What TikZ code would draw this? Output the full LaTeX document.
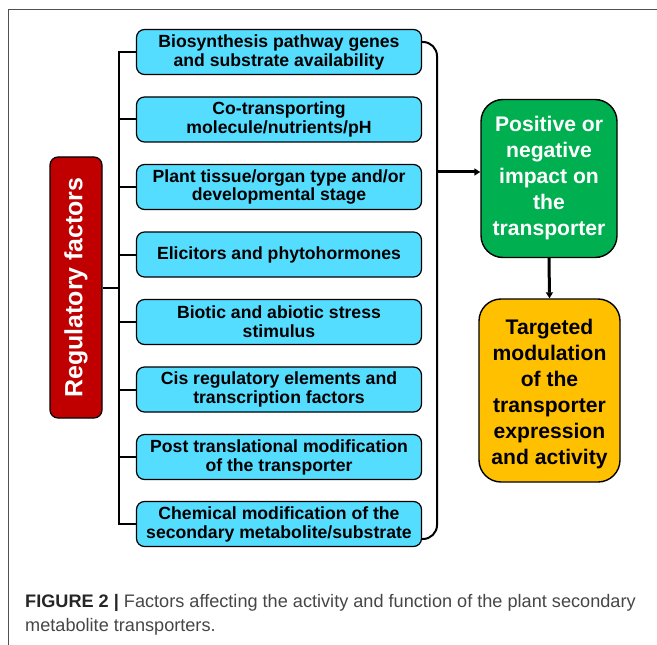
\documentclass[tikz,border=0pt]{standalone}
\usepackage{fontspec}
\setmainfont{Liberation Sans}
\usetikzlibrary{arrows.meta}
\definecolor{factorcyan}{RGB}{85,221,255}
\definecolor{impactgreen}{RGB}{0,176,80}
\definecolor{targetgold}{RGB}{255,192,0}
\definecolor{regred}{RGB}{192,0,0}
\definecolor{captiongray}{RGB}{70,70,70}
\definecolor{framegray}{RGB}{80,80,80}
\begin{document}
\begin{tikzpicture}[x=1bp,y=1bp,
  factor/.style={draw=black, line width=1.2bp, fill=factorcyan, rounded corners=8bp,
    minimum width=285bp, minimum height=45bp, align=center, inner sep=0pt,
    font=\bfseries\fontsize{17.7}{19}\selectfont},
  bigbox/.style={draw=black, line width=1.4bp, rounded corners=22bp, inner sep=0pt},
  bigtext/.style={align=center, inner sep=0pt, font=\bfseries\fontsize{21.2}{26}\selectfont},
  link/.style={line width=2bp, black},
  push/.style={line width=3bp, black, -{Triangle[length=6bp,width=7bp]}}]
  \useasboundingbox (0,0) rectangle (657,-645);

  % frame lines
  \draw[framegray, line width=1bp] (8,-645) -- (8,-9.5) -- (657,-9.5);

  % regulatory factor boxes
  \node[factor] (f1) at (279,-52)  {Biosynthesis pathway genes\\and substrate availability};
  \node[factor] (f2) at (279,-119.5) {Co-transporting\\molecule/nutrients/pH};
  \node[factor] (f3) at (279,-187) {Plant tissue/organ type and/or\\developmental stage};
  \node[factor] (f4) at (279,-254.5) {Elicitors and phytohormones};
  \node[factor] (f5) at (279,-322) {Biotic and abiotic stress\\stimulus};
  \node[factor] (f6) at (279,-389.5) {Cis regulatory elements and\\transcription factors};
  \node[factor] (f7) at (279,-457) {Post translational modification\\of the transporter};
  \node[factor] (f8) at (279,-524) {Chemical modification of the\\secondary metabolite/substrate};

  % left title box
  \node[draw=black, line width=1.2bp, fill=regred, rounded corners=8bp,
        minimum width=52bp, minimum height=261bp, inner sep=0pt] (reg) at (76,-287.5) {};
  \node[rotate=90, text=white, font=\bfseries\fontsize{25}{28}\selectfont] (regtxt) at (reg.center) {Regulatory factors};

  % outcome boxes
  \node[bigbox, fill=impactgreen, minimum width=136bp, minimum height=158bp] (impact) at (549,-178.5) {};
  \node[bigtext, text=white] (impacttxt) at ([yshift=0.5bp]impact.center)
    {Positive or\\negative\\impact on\\the\\transporter};
  \node[bigbox, fill=targetgold, minimum width=141bp, minimum height=183bp] (target) at (549.5,-390.5) {};
  \node[bigtext, text=black] (targettxt) at ([yshift=-3.5bp]target.center)
    {Targeted\\modulation\\of the\\transporter\\expression\\and activity};

  % left bus
  \coordinate (busL) at (119,0);
  \draw[link] (f1.west) -- (f1.west -| busL) -- (f8.west -| busL) -- (f8.west);
  \foreach \f in {f2,f3,f4,f5,f6,f7}
    \draw[link] (\f.west) -- (\f.west -| busL);
  \draw[link] (reg.east) -- (reg.east -| busL);

  % right bracket
  \coordinate (busR) at (437,0);
  \draw[link, rounded corners=14bp] ([yshift=10bp]f1.east) -- ([yshift=10bp]f1.east -| busR)
    -- ([yshift=-15bp]f8.east -| busR) -- ([yshift=-15bp]f8.east);

  % arrows
  \draw[push] ([yshift=6.5bp]impact.west -| busR) -- ([yshift=6.5bp]impact.west);
  \draw[push] (impact.south) -- (target.north);

  % caption
  \node[anchor=base west, align=left, text=captiongray, inner sep=0pt,
        font=\fontsize{18.2}{24}\selectfont] (caption) at (25,-631)
    {{\bfseries\color{black!85}FIGURE 2 |} Factors affecting the activity and function of the plant secondary\\metabolite transporters.};
\end{tikzpicture}
\end{document}
